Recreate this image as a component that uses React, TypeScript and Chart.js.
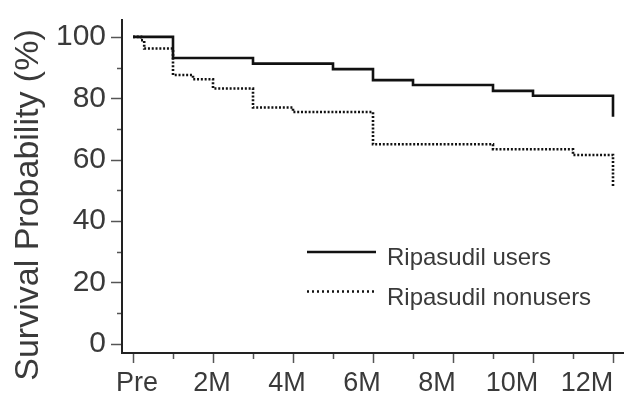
import React, { useEffect, useRef } from 'react';
import { Chart, registerables } from 'chart.js';

Chart.register(...registerables);

// ---- data ----
const X_TICK_MONTHS = [0, 2, 4, 6, 8, 10, 12];
const X_TICK_LABELS = ['Pre', '2M', '4M', '6M', '8M', '10M', '12M'];
const Y_TICKS = [0, 20, 40, 60, 80, 100];
const Y_TITLE = 'Survival Probability (%)';
const SERIES_NAMES = ['Ripasudil users', 'Ripasudil nonusers'];

const USERS_MONTHS = [0, 1, 3, 5, 6, 7, 9, 10, 12];
const USERS_SURVIVAL = [100, 93.1, 91.3, 89.5, 85.9, 84.3, 82.4, 80.8, 74.0];

const NONUSERS_MONTHS = [0, 0.2, 0.28, 1, 1.5, 2, 3, 4, 6, 9, 11, 12];
const NONUSERS_SURVIVAL = [100, 98.9, 96.2, 87.6, 86.2, 83.2, 77.0, 75.5, 65.0, 63.4, 61.5, 51.2];

const FONT = '"Liberation Sans", Arial, Helvetica, sans-serif';
const TEXT = '#3a3a3a';

const decorPlugin = {
  id: 'decor',
  afterDraw(chart: any) {
    const { ctx, chartArea, scales } = chart;
    const xs = scales.x;
    const ys = scales.y;
    ctx.save();
    // minor + major tick marks
    ctx.strokeStyle = '#555';
    ctx.lineWidth = 1.5;
    const x0 = X_TICK_MONTHS[0];
    const x1 = X_TICK_MONTHS[X_TICK_MONTHS.length - 1];
    for (let m = x0; m <= x1; m += 1) {
      const px = Math.round(xs.getPixelForValue(m)) + 0.5;
      const major = X_TICK_MONTHS.includes(m);
      ctx.beginPath();
      ctx.moveTo(px, chartArea.bottom + 1);
      ctx.lineTo(px, chartArea.bottom + (major ? 10 : 6));
      ctx.stroke();
    }
    const y0 = Y_TICKS[0];
    const y1 = Y_TICKS[Y_TICKS.length - 1];
    for (let v = y0; v <= y1; v += 10) {
      const py = Math.round(ys.getPixelForValue(v)) + 0.5;
      const major = Y_TICKS.includes(v);
      ctx.beginPath();
      ctx.moveTo(chartArea.left - 1, py);
      ctx.lineTo(chartArea.left - (major ? 11 : 5), py);
      ctx.stroke();
    }
    // axis title
    ctx.fillStyle = TEXT;
    ctx.font = `34px ${FONT}`;
    ctx.translate(38, 205);
    ctx.rotate(-Math.PI / 2);
    ctx.textAlign = 'center';
    ctx.textBaseline = 'alphabetic';
    ctx.fillText(Y_TITLE, 0, 0);
    ctx.setTransform(1, 0, 0, 1, 0, 0);
    // legend
    const lx = chartArea.left + 185;
    const ly = 252;
    chart.data.datasets.forEach((ds: any, i: number) => {
      const y = ly + i * 39.5;
      ctx.save();
      ctx.strokeStyle = ds.borderColor;
      ctx.lineWidth = ds.borderWidth;
      ctx.setLineDash(ds.legendDash || []);
      ctx.beginPath();
      ctx.moveTo(lx, y);
      ctx.lineTo(lx + 69, y);
      ctx.stroke();
      ctx.restore();
      ctx.fillStyle = TEXT;
      ctx.font = `24px ${FONT}`;
      ctx.textAlign = 'left';
      ctx.textBaseline = 'alphabetic';
      ctx.fillText(ds.label, lx + 80, y + 13);
    });
    ctx.restore();
  },
};

export default function App() {
  const ref = useRef<HTMLCanvasElement>(null);
  useEffect(() => {
    document.body.style.margin = '0';
    const canvas = ref.current!;
    const chart = new Chart(canvas, {
      type: 'line',
      data: {
        datasets: [
          {
            label: SERIES_NAMES[0],
            data: USERS_MONTHS.map((m, i) => ({ x: m, y: USERS_SURVIVAL[i] })),
            borderColor: '#111',
            borderWidth: 2.6,
            stepped: 'before',
            pointRadius: 0,
            fill: false,
            legendDash: [],
          } as any,
          {
            label: SERIES_NAMES[1],
            data: NONUSERS_MONTHS.map((m, i) => ({ x: m, y: NONUSERS_SURVIVAL[i] })),
            borderColor: '#111',
            borderWidth: 2.6,
            borderDash: [2, 1.8],
            stepped: 'before',
            pointRadius: 0,
            fill: false,
            legendDash: [2, 3],
          } as any,
        ],
      },
      options: {
        animation: false,
        responsive: false,
        layout: { padding: { top: 20, right: 2, left: 0, bottom: 0 } },
        plugins: { legend: { display: false }, tooltip: { enabled: false } },
        scales: {
          x: {
            type: 'linear',
            position: 'bottom',
            weight: 0,
            min: -0.275,
            max: 12.25,
            grid: { display: false, drawTicks: false },
            border: { display: true, color: '#222', width: 2 },
            afterBuildTicks: (s: any) => {
              s.ticks = X_TICK_MONTHS.map((v) => ({ value: v }));
            },
            afterFit: (s: any) => {
              s.height = 0;
              s.paddingLeft = 0;
              s.paddingRight = 0;
            },
            ticks: { display: false },
          },
          x2: {
            type: 'linear',
            axis: 'x',
            position: 'bottom',
            weight: 1,
            min: -0.4,
            max: 12.96,
            grid: { display: false, drawTicks: false },
            border: { display: false },
            afterBuildTicks: (s: any) => {
              s.ticks = X_TICK_MONTHS.map((v) => ({ value: v }));
            },
            afterFit: (s: any) => {
              s.height = 47;
              s.paddingLeft = 0;
              s.paddingRight = 0;
            },
            ticks: {
              autoSkip: false,
              maxRotation: 0,
              padding: 14,
              color: TEXT,
              font: { size: 27, family: FONT },
              callback: (v: any) => {
                const i = X_TICK_MONTHS.indexOf(Number(v));
                return i >= 0 ? X_TICK_LABELS[i] : '';
              },
            },
          },
          y: {
            type: 'linear',
            position: 'left',
            min: -3,
            max: 105.5,
            grid: { display: false, drawTicks: false },
            border: { display: true, color: '#222', width: 2 },
            afterBuildTicks: (s: any) => {
              s.ticks = Y_TICKS.map((v) => ({ value: v }));
            },
            afterFit: (s: any) => {
              s.width = 122;
              s.paddingTop = 0;
              s.paddingBottom = 0;
            },
            ticks: {
              padding: 16,
              color: TEXT,
              font: { size: 30, family: FONT },
              callback: (v: any) => String(v),
            },
          },
        },
      } as any,
      plugins: [decorPlugin],
    });
    return () => chart.destroy();
  }, []);
  return (
    <div style={{ width: 625, height: 400, background: '#fff' }}>
      <canvas ref={ref} width={625} height={400} />
    </div>
  );
}
